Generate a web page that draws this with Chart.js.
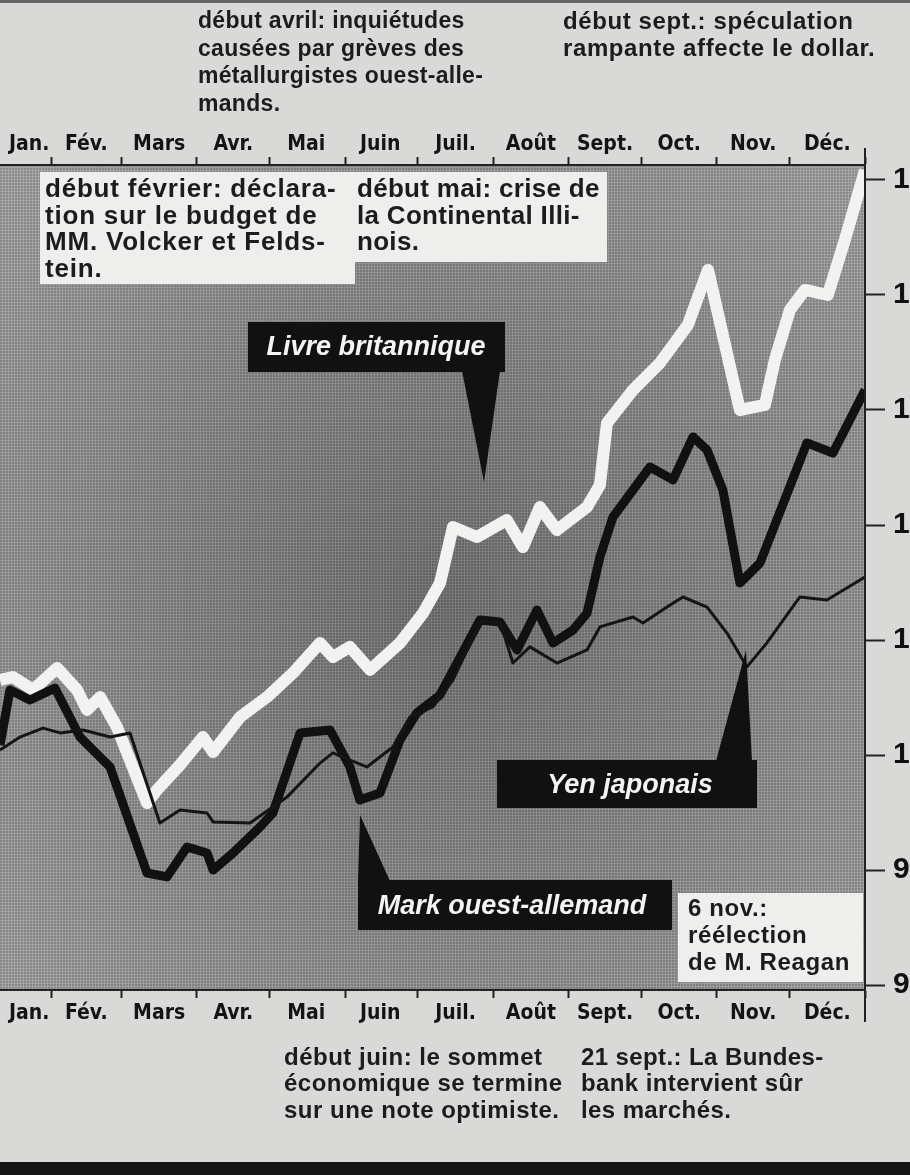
<!DOCTYPE html>
<html>
<head>
<meta charset="utf-8">
<script src="https://cdn.jsdelivr.net/npm/chart.js@4.4.1/dist/chart.umd.min.js"></script>
<style>
  html, body { margin: 0; padding: 0; background: #d9d9d7; }
  #wrap { position: relative; width: 910px; height: 1175px; overflow: hidden; }
  #topline { position: absolute; left: 0; top: 0; width: 910px; height: 3px; background: #666; }
  #band { position: absolute; left: 0; top: 1162px; width: 910px; height: 13px; background: #151515; }
</style>
</head>
<body>
<div id="wrap">
  <canvas id="chart" width="910" height="1175"></canvas>
  <div id="topline"></div>
  <div id="band"></div>
</div>
<script>
// days counted from 1 Jan 1984 (leap year)
var monthNames = ['Jan.', 'Fév.', 'Mars', 'Avr.', 'Mai', 'Juin', 'Juil.', 'Août', 'Sept.', 'Oct.', 'Nov.', 'Déc.'];
var monthLabelDays = [22, 45.5, 75.5, 106, 136, 166.5, 197.5, 228.5, 259, 289.5, 320, 350.5];
var monthBounds = [31, 60, 91, 121, 152, 182, 213, 244, 274, 305, 335, 366];
var valueTicks = [90, 95, 100, 105, 110, 115, 120, 125];

// Livre britannique
var gbpDays = [10, 15.3, 23.6, 33.5, 41.7, 45.8, 51.2, 58.1, 70.5, 74.6, 84.1, 93.5, 97.7, 108.8, 119.9,
    130.6, 141.7, 147, 154, 162.3, 174.6, 184.1, 191.1, 196.4, 206.3, 218.6, 225.2, 232.2, 239.2, 251.6,
    256.9, 259.8, 270.5, 281.6, 293.1, 301.4, 314.5, 324.8, 328.9, 335.1, 341.3, 350.7, 357.7, 366];
var gbpValues = [103.26, 103.39, 102.83, 103.78, 102.83, 101.96, 102.52, 101.22, 97.91, 98.48, 99.57, 100.78, 100.13, 101.65, 102.52,
    103.57, 104.87, 104.26, 104.7, 103.7, 104.87, 106.17, 107.48, 109.91, 109.48, 110.22, 109.04, 110.78, 109.78, 110.78,
    111.74, 114.43, 115.87, 117.04, 118.7, 121.09, 115, 115.22, 117.17, 119.35, 120.22, 120, 122.39, 125.43];

// Mark ouest-allemand
var demDays = [10, 14.1, 22.3, 32.6, 42.9, 51.2, 55.3, 70.5, 78.7, 87, 95.2, 97.7, 105.9, 117, 122.3,
    133.5, 145.8, 154, 158.1, 166.4, 174.6, 181.6, 191.1, 207.5, 215.8, 222.8, 231, 237.6, 245.8, 251.6,
    256.9, 262.3, 277.5, 287, 295.2, 301, 307.5, 314.5, 322.8, 342.1, 352.8, 366];
var demValues = [100.43, 102.83, 102.39, 102.91, 100.78, 99.91, 99.48, 94.87, 94.7, 96, 95.74, 95, 95.74, 96.87, 97.48,
    100.96, 101.09, 99.48, 98.04, 98.35, 100.65, 101.83, 102.61, 105.87, 105.78, 104.57, 106.3, 104.87, 105.43, 106.17,
    108.61, 110.35, 112.52, 111.96, 113.83, 113.26, 111.52, 107.48, 108.35, 113.57, 113.13, 115.87];

// Yen japonais
var jpyDays = [10, 18.2, 27.7, 34.7, 44.2, 55.3, 63.5, 75.8, 84.1, 95.2, 97.7, 112.9, 128.1, 141.7, 147,
    154, 161, 171.7, 178.7, 188.2, 196.4, 207.5, 215.8, 221.1, 228.1, 239.2, 251.6, 256.9, 270.5, 274.6,
    284.5, 291.1, 301, 309.2, 317.4, 325.6, 339.2, 350.3, 366];
var jpyValues = [100.22, 100.78, 101.17, 100.96, 101.09, 100.78, 100.96, 97.04, 97.61, 97.48, 97.09, 97.04, 98.17, 99.65, 100.09,
    99.78, 99.48, 100.35, 101.65, 102.09, 103.26, 105.78, 105.78, 104, 104.7, 104, 104.57, 105.57, 106, 105.74,
    106.43, 106.87, 106.43, 105.3, 103.83, 104.87, 106.87, 106.74, 107.74];

function points(days, values) {
    return days.map(function (d, i) { return { x: d, y: values[i] }; });
}

var monthTicks = monthBounds.concat(monthLabelDays).sort(function (a, b) { return a - b; });

function monthLabel(value) {
    var i = monthLabelDays.indexOf(value);
    return i >= 0 ? monthNames[i] : '';
}

var monthFont = { family: '"Liberation Sans Narrow", "DejaVu Sans Condensed", sans-serif', weight: 'bold', size: 21 };

function monthAxis(position, h, pad) {
    return {
        type: 'linear',
        position: position,
        min: 10,
        max: 366,
        afterBuildTicks: function (scale) {
            scale.ticks = monthTicks.map(function (v) { return { value: v }; });
        },
        afterFit: function (scale) { scale.height = h; },
        ticks: {
            autoSkip: false,
            maxRotation: 0,
            padding: pad,
            color: '#141414',
            font: monthFont,
            callback: function (value) { return monthLabel(value); }
        },
        grid: {
            drawOnChartArea: false,
            tickLength: 8,
            tickWidth: 2,
            tickColor: function (ctx) {
                return ctx.tick && monthBounds.indexOf(ctx.tick.value) >= 0 ? '#222' : 'rgba(0,0,0,0)';
            }
        },
        border: { color: '#222', width: 2 }
    };
}

// halftone-ish texture for the plot
var dot = document.createElement('canvas');
dot.width = 3; dot.height = 3;
var dctx = dot.getContext('2d');
dctx.fillStyle = 'rgba(0,0,0,0.16)';
dctx.fillRect(0, 0, 2, 2);
dctx.fillStyle = 'rgba(255,255,255,0.10)';
dctx.fillRect(2, 2, 1, 1);

function lines(ctx, arr, x, y, lh, font, spacing) {
    ctx.font = font;
    ctx.letterSpacing = spacing;
    arr.forEach(function (t, i) {
        ctx.fillText(t, x, y + i * lh);
    });
    ctx.letterSpacing = '0px';
}

var face = '"Liberation Sans", Arial, sans-serif';

var decor = {
    id: 'decor',
    beforeDraw: function (chart) {
        var ctx = chart.ctx, a = chart.chartArea;
        ctx.save();
        var g = ctx.createRadialGradient(440, 600, 0, 440, 600, 600);
        g.addColorStop(0, '#737373');
        g.addColorStop(1, '#a4a4a4');
        ctx.fillStyle = g;
        ctx.fillRect(a.left, a.top, a.right - a.left, a.bottom - a.top);
        ctx.fillStyle = ctx.createPattern(dot, 'repeat');
        ctx.fillRect(a.left, a.top, a.right - a.left, a.bottom - a.top);
        ctx.restore();
    },
    afterDraw: function (chart) {
        var ctx = chart.ctx, a = chart.chartArea;
        ctx.save();
        // right frame line, running past the plot
        ctx.strokeStyle = '#222';
        ctx.lineWidth = 2;
        ctx.beginPath();
        ctx.moveTo(a.right, a.top - 17);
        ctx.lineTo(a.right, a.bottom + 32);
        ctx.stroke();

        ctx.textBaseline = 'middle';

        // notes outside the plot
        ctx.fillStyle = '#1c1c1c';
        lines(ctx, ['début avril: inquiétudes', 'causées par grèves des', 'métallurgistes ouest-alle-', 'mands.'],
            198, 22, 27.5, 'bold 23px ' + face, '0.3px');
        lines(ctx, ['début sept.: spéculation', 'rampante affecte le dollar.'],
            563, 22, 27.5, 'bold 24px ' + face, '0.6px');
        lines(ctx, ['début juin: le sommet', 'économique se termine', 'sur une note optimiste.'],
            284, 1058, 26.5, 'bold 24px ' + face, '0.5px');
        lines(ctx, ['21 sept.: La Bundes-', 'bank intervient sûr', 'les marchés.'],
            581, 1058, 26.5, 'bold 24px ' + face, '0.4px');

        // white boxes inside the plot
        ctx.fillStyle = '#eeeeec';
        ctx.fillRect(40, 172, 315, 112);
        ctx.fillRect(355, 172, 252, 90);
        ctx.fillRect(678, 893, 185, 89);
        ctx.fillStyle = '#1c1c1c';
        lines(ctx, ['début février: déclara-', 'tion sur le budget de', 'MM. Volcker et Felds-', 'tein.'],
            45, 190, 26.5, 'bold 26px ' + face, '0.8px');
        lines(ctx, ['début mai: crise de', 'la Continental Illi-', 'nois.'],
            357, 190, 26.5, 'bold 26px ' + face, '0.3px');
        lines(ctx, ['6 nov.:', 'réélection', 'de M. Reagan'],
            688, 909, 27, 'bold 24px ' + face, '0.6px');

        // black series labels with pointers
        ctx.fillStyle = '#111';
        ctx.fillRect(248, 322, 257, 50);
        ctx.fillRect(497, 760, 260, 48);
        ctx.fillRect(358, 880, 314, 50);
        ctx.beginPath();
        ctx.moveTo(462, 371); ctx.lineTo(500, 371); ctx.lineTo(484, 482); ctx.closePath();
        ctx.moveTo(716, 761); ctx.lineTo(752, 761); ctx.lineTo(746, 650); ctx.closePath();
        ctx.moveTo(358, 881); ctx.lineTo(390, 881); ctx.lineTo(360, 815); ctx.closePath();
        ctx.fill();
        ctx.font = 'italic bold 27px ' + face;
        ctx.fillStyle = '#f4f4f4';
        ctx.textAlign = 'center';
        ctx.fillText('Livre britannique', 376, 348);
        ctx.fillText('Yen japonais', 630, 786);
        ctx.fillText('Mark ouest-allemand', 512, 907);
        ctx.restore();
    }
};

new Chart(document.getElementById('chart'), {
    type: 'line',
    data: {
        datasets: [{
            label: 'Livre britannique',
            data: points(gbpDays, gbpValues),
            borderColor: '#f2f2f0',
            borderWidth: 12,
            order: 3
        }, {
            label: 'Mark ouest-allemand',
            data: points(demDays, demValues),
            borderColor: '#111',
            borderWidth: 9,
            order: 2
        }, {
            label: 'Yen japonais',
            data: points(jpyDays, jpyValues),
            borderColor: '#151515',
            borderWidth: 3,
            order: 1
        }]
    },
    options: {
        responsive: false,
        animation: false,
        layout: { padding: { top: 125, bottom: 145, left: 0, right: 0 } },
        elements: {
            point: { radius: 0 },
            line: { tension: 0, borderJoinStyle: 'round', borderCapStyle: 'butt' }
        },
        plugins: { legend: { display: false }, tooltip: { enabled: false } },
        scales: {
            x: monthAxis('bottom', 40, 3),
            xTop: monthAxis('top', 40, 0),
            y: {
                position: 'right',
                min: 89.783,
                max: 125.652,
                afterBuildTicks: function (scale) {
                    scale.ticks = valueTicks.map(function (v) { return { value: v }; });
                },
                afterFit: function (scale) { scale.width = 45; },
                ticks: {
                    padding: 8,
                    color: '#111',
                    font: { family: face, weight: 'bold', size: 30 }
                },
                grid: { drawOnChartArea: false, tickLength: 20, tickWidth: 2, tickColor: '#222' },
                border: { color: '#222', width: 2 }
            }
        }
    },
    plugins: [decor]
});
</script>
</body>
</html>
